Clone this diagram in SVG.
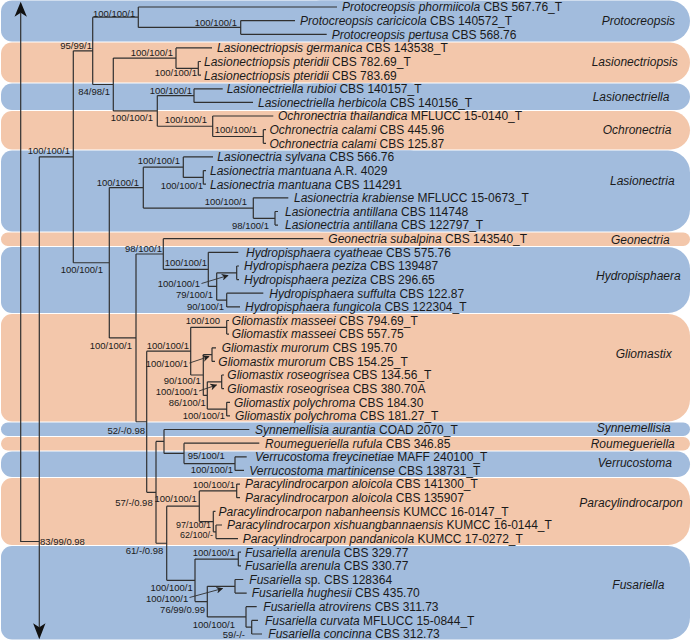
<svg xmlns="http://www.w3.org/2000/svg" width="691" height="641" viewBox="0 0 691 641">
<style>
.b{fill:#a2bcdd}.p{fill:#f3c7ab}
text{font-family:"Liberation Sans",Arial,sans-serif;fill:#1a1a1a}
.lf{font-size:12px}.s{font-size:9.5px;text-anchor:end}.ss{font-size:9.5px}
.i{font-style:italic}.cl{font-size:12px;font-style:italic}
.ln{fill:none;stroke:#303030;stroke-width:1.2}
.ar{fill:none;stroke:#303030;stroke-width:0.9}
</style>
<defs>
<marker id="ah" viewBox="0 0 10 10" refX="9" refY="5" markerWidth="7" markerHeight="7" markerUnits="userSpaceOnUse" orient="auto"><path d="M0 0L10 5L0 10L3 5z" fill="#222"/></marker>
</defs>
<g id="bands">
<rect class="b" x="1" y="0.5" width="420" height="41" rx="11" ry="11"/><rect class="b" x="300" y="0.5" width="390" height="41" rx="20.5" ry="20.5"/>
<rect class="p" x="1" y="42.5" width="420" height="40" rx="11" ry="11"/><rect class="p" x="300" y="42.5" width="390" height="40" rx="20" ry="20"/>
<rect class="b" x="1" y="83.5" width="420" height="26.5" rx="11" ry="11"/><rect class="b" x="300" y="83.5" width="390" height="26.5" rx="13.25" ry="13.25"/>
<rect class="p" x="1" y="111" width="420" height="38.5" rx="11" ry="11"/><rect class="p" x="300" y="111" width="390" height="38.5" rx="19.25" ry="19.25"/>
<rect class="b" x="1" y="150.5" width="420" height="81" rx="11" ry="11"/><rect class="b" x="300" y="150.5" width="390" height="81" rx="22" ry="22"/>
<rect class="p" x="1" y="232.5" width="689" height="13.5" rx="6.75" ry="6.75"/>
<rect class="b" x="1" y="247" width="420" height="66" rx="11" ry="11"/><rect class="b" x="300" y="247" width="390" height="66" rx="22" ry="22"/>
<rect class="p" x="1" y="314" width="420" height="107.5" rx="11" ry="11"/><rect class="p" x="300" y="314" width="390" height="107.5" rx="22" ry="22"/>
<rect class="b" x="1" y="422.5" width="689" height="13.5" rx="6.75" ry="6.75"/>
<rect class="p" x="1" y="437" width="689" height="13.5" rx="6.75" ry="6.75"/>
<rect class="b" x="1" y="451.5" width="420" height="25.5" rx="11" ry="11"/><rect class="b" x="300" y="451.5" width="390" height="25.5" rx="12.75" ry="12.75"/>
<rect class="p" x="1" y="478" width="420" height="67" rx="11" ry="11"/><rect class="p" x="300" y="478" width="390" height="67" rx="22" ry="22"/>
<rect class="b" x="1" y="546" width="420" height="93.5" rx="11" ry="11"/><rect class="b" x="300" y="546" width="390" height="93.5" rx="22" ry="22"/>
</g>
<g id="connectors">
<path class="ln" d="M20.7 13V541.5H39.3M39.3 156.8V627"/>
<path d="M20.7 1.7L14.5 16.7L20.7 12.7L26.9 16.7z" fill="#111"/>
<path d="M39.3 639.3L33.1 623.3L39.3 627.3L45.5 623.3z" fill="#111"/>
<path class="ln" d="M39.3 156.8H73.3M73.3 50.85V262.75
M73.3 50.85H92.7M92.7 17.2V84.5
M92.7 17.2H138.3M138.3 7V27.45
M138.3 27.45H240.7M240.7 20.6V34.3
M92.7 84.5H113.3M113.3 58.1V110.9
M113.3 58.1H176M176 47.9V68.35
M176 68.35H198.3M198.3 61.5V75.2
M113.3 110.9H157.3M157.3 95.6V126.25
M157.3 95.6H194M194 88.8V102.4
M157.3 126.25H212.7M212.7 116V136.5
M212.7 136.5H263.3M263.3 129.7V143.3
M73.3 262.75H109.3M109.3 187.6V337.9
M109.3 187.6H143.3M143.3 167.15V208.05
M143.3 167.15H183.3M183.3 156.9V177.4
M183.3 177.4H203.3M203.3 170.6V184.2
M143.3 208.05H253.3M253.3 197.8V218.3
M253.3 218.3H275M275 211.5V225.1
M109.3 337.9H136M136 254V421.75
M136 254H163.3M163.3 238.7V269.35
M163.3 269.35H208.3M208.3 252.3V286.4
M208.3 286.4H216.7M216.7 272.8V300.05
M216.7 272.8H236.7M236.7 266V279.6
M216.7 300.05H226.7M226.7 293.2V306.9
M136 421.75H146.7M146.7 351.15V492.35
M146.7 351.15H190.7M190.7 327.3V375
M190.7 327.3H226.7M226.7 320.5V334.1
M190.7 375H203.3M203.3 354.6V395.45
M203.3 354.6H212M212 347.8V361.4
M203.3 395.45H207.3M207.3 381.8V409.1
M207.3 381.8H221.7M221.7 375V388.6
M207.3 409.1H226.7M226.7 402.3V415.9
M146.7 492.35H156M156 441.45V543.25
M156 441.45H164M164 429.5V453.4
M164 453.4H184M184 443.2V463.6
M184 463.6H235M235 456.8V470.4
M156 543.25H166.7M166.7 506.2V580.3
M166.7 506.2H199.3M199.3 490.9V521.55
M199.3 490.9H236.7M236.7 484.1V497.7
M199.3 521.55H213.3M213.3 511.3V531.8
M213.3 531.8H216M216 525V538.6
M166.7 580.3H195M195 559.05V601.6
M195 559.05H238.3M238.3 552.2V565.9
M195 601.6H207.3M207.3 586.3V616.95
M207.3 586.3H235M235 579.5V593.1
M207.3 616.95H246M246 606.7V627.2
M246 627.2H251.7M251.7 620.4V634"/>
<path class="ln" d="M138.3 7H337M240.7 20.6H295M240.7 34.3H326.7
M176 47.9H212M198.3 61.5H201M198.3 75.2H201
M194 88.8H222.7M194 102.4H253M212.7 116H273.3M263.3 129.7H266M263.3 143.3H266
M183.3 156.9H213M203.3 170.6H206M203.3 184.2H206M253.3 197.8H288.3M275 211.5H278M275 225.1H278
M163.3 238.7H323.3M208.3 252.3H238.3M236.7 266H239M236.7 279.6H239M226.7 293.2H263.3M226.7 306.9H240
M226.7 320.5H229M226.7 334.1H229M212 347.8H216M212 361.4H215M221.7 375H224M221.7 388.6H224M226.7 402.3H230M226.7 415.9H230
M164 429.5H249.3M184 443.2H259.3M235 456.8H246.7M235 470.4H244
M236.7 484.1H240M236.7 497.7H240M213.3 511.3H215.5M216 525H222M216 538.6H238
M238.3 552.2H241M238.3 565.9H241M235 579.5H243.3M235 593.1H246.7M246 606.7H256.7M251.7 620.4H258M251.7 634H262"/>
<line class="ar" x1="201.5" y1="283.5" x2="228" y2="275.5" marker-end="url(#ah)"/>
<line class="ar" x1="189.5" y1="363" x2="209" y2="356.5" marker-end="url(#ah)"/>
<line class="ar" x1="199" y1="391" x2="216.5" y2="385" marker-end="url(#ah)"/>
<line class="ar" x1="189.5" y1="597.5" x2="222.5" y2="588.5" marker-end="url(#ah)"/>
</g>
<g id="support">
<text class="ss" x="93" y="16.5">100/100/1</text>
<text class="s" x="237" y="25.5">100/100/1</text>
<text class="s" x="92" y="48.5">95/99/1</text>
<text class="s" x="173" y="56">100/100/1</text>
<text class="s" x="197" y="76">100/100/1</text>
<text class="s" x="110" y="95">84/98/1</text>
<text class="s" x="192" y="93.5">100/100/1</text>
<text class="s" x="153" y="121">100/100/1</text>
<text class="s" x="207" y="123">100/100/1</text>
<text class="s" x="257" y="133">100/100/1</text>
<text class="s" x="70" y="153.5">100/100/1</text>
<text class="s" x="180" y="163.5">100/100/1</text>
<text class="s" x="139" y="186">100/100/1</text>
<text class="s" x="203" y="188.5">100/100/1</text>
<text class="s" x="247" y="205">100/100/1</text>
<text class="s" x="269" y="229">98/100/1</text>
<text class="s" x="162" y="252">98/100/1</text>
<text class="s" x="207" y="266">100/100/1</text>
<text class="s" x="200" y="287">100/100/1</text>
<text class="s" x="213" y="298">79/100/1</text>
<text class="s" x="224" y="310">90/100/1</text>
<text class="s" x="220" y="324">100/100</text>
<text class="s" x="103" y="273">100/100/1</text>
<text class="s" x="132" y="348.5">100/100/1</text>
<text class="s" x="189" y="348.5">100/100/1</text>
<text class="s" x="188" y="367">100/100/1</text>
<text class="s" x="200.7" y="384">90/100/1</text>
<text class="s" x="198" y="394.5">100/100/1</text>
<text class="s" x="205.7" y="406">86/100/1</text>
<text class="s" x="225" y="419">100/100/1</text>
<text class="s" x="145" y="433.5">52/-/0.98</text>
<text class="ss" x="187.7" y="458.5">95/100/1</text>
<text class="s" x="233" y="473">100/100/1</text>
<text class="s" x="235" y="487.5">100/100/1</text>
<text class="s" x="152.7" y="506">57/-/0.98</text>
<text class="s" x="196.7" y="502">100/100/1</text>
<text class="s" x="211" y="527.8" style="font-size:9px">97/100/1</text>
<text class="s" x="213" y="538" style="font-size:9px">62/100/-</text>
<text class="ss" x="40" y="544.5">83/99/0.98</text>
<text class="s" x="163.3" y="553.5">61/-/0.98</text>
<text class="s" x="235" y="556">100/100/1</text>
<text class="s" x="192.7" y="591">100/100/1</text>
<text class="s" x="188.3" y="602">100/100/1</text>
<text class="s" x="205" y="613">76/99/0.99</text>
<text class="s" x="235" y="627.5">100/100/1</text>
<text class="s" x="245" y="637.5">59/-/-</text>
</g>
<g id="leaves" class="lf">
<g id="n0"><text x="342" y="11.3"><tspan class="i">Protocreopsis phormiicola</tspan> CBS 567.76_T</text></g>
<g id="n1"><text x="300" y="24.9"><tspan class="i">Protocreopsis caricicola</tspan> CBS 140572_T</text></g>
<g id="n2"><text x="331.7" y="38.6"><tspan class="i">Protocreopsis pertusa</tspan> CBS 568.76</text></g>
<g id="n3"><text x="217" y="52.2"><tspan class="i">Lasionectriopsis germanica</tspan> CBS 143538_T</text></g>
<g id="n4"><text x="204" y="65.8"><tspan class="i">Lasionectriopsis pteridii</tspan> CBS 782.69_T</text></g>
<g id="n5"><text x="204" y="79.5"><tspan class="i">Lasionectriopsis pteridii</tspan> CBS 783.69</text></g>
<g id="n6"><text x="226.7" y="93.1"><tspan class="i">Lasionectriella rubioi</tspan> CBS 140157_T</text></g>
<g id="n7"><text x="258" y="106.7"><tspan class="i">Lasionectriella herbicola</tspan> CBS 140156_T</text></g>
<g id="n8"><text x="278" y="120.3"><tspan class="i">Ochronectria thailandica</tspan> MFLUCC 15-0140_T</text></g>
<g id="n9"><text x="269.5" y="134"><tspan class="i">Ochronectria calami</tspan> CBS 445.96</text></g>
<g id="n10"><text x="269.5" y="147.6"><tspan class="i">Ochronectria calami</tspan> CBS 125.87</text></g>
<g id="n11"><text x="217.3" y="161.2"><tspan class="i">Lasionectria sylvana</tspan> CBS 566.76</text></g>
<g id="n12"><text x="210" y="174.9"><tspan class="i">Lasionectria mantuana</tspan> A.R. 4029</text></g>
<g id="n13"><text x="210" y="188.5"><tspan class="i">Lasionectria mantuana</tspan> CBS 114291</text></g>
<g id="n14"><text x="294" y="202.1"><tspan class="i">Lasionectria krabiense</tspan> MFLUCC 15-0673_T</text></g>
<g id="n15"><text x="285" y="215.8"><tspan class="i">Lasionectria antillana</tspan> CBS 114748</text></g>
<g id="n16"><text x="285" y="229.4"><tspan class="i">Lasionectria antillana</tspan> CBS 122797_T</text></g>
<g id="n17"><text x="328.3" y="243"><tspan class="i">Geonectria subalpina</tspan> CBS 143540_T</text></g>
<g id="n18"><text x="246" y="256.6"><tspan class="i">Hydropisphaera cyatheae</tspan> CBS 575.76</text></g>
<g id="n19"><text x="244" y="270.3"><tspan class="i">Hydropisphaera peziza</tspan> CBS 139487</text></g>
<g id="n20"><text x="244" y="283.9"><tspan class="i">Hydropisphaera peziza</tspan> CBS 296.65</text></g>
<g id="n21"><text x="269.3" y="297.5"><tspan class="i">Hydropisphaera suffulta</tspan> CBS 122.87</text></g>
<g id="n22"><text x="245" y="311.2"><tspan class="i">Hydropisphaera fungicola</tspan> CBS 122304_T</text></g>
<g id="n23"><text x="231.7" y="324.8"><tspan class="i">Gliomastix masseei</tspan> CBS 794.69_T</text></g>
<g id="n24"><text x="231.7" y="338.4"><tspan class="i">Gliomastix masseei</tspan> CBS 557.75</text></g>
<g id="n25"><text x="221.7" y="352.1"><tspan class="i">Gliomastix murorum</tspan> CBS 195.70</text></g>
<g id="n26"><text x="218.3" y="365.7"><tspan class="i">Gliomastix murorum</tspan> CBS 154.25_T</text></g>
<g id="n27"><text x="227.3" y="379.3"><tspan class="i">Gliomastix roseogrisea</tspan> CBS 134.56_T</text></g>
<g id="n28"><text x="227.3" y="392.9"><tspan class="i">Gliomastix roseogrisea</tspan> CBS 380.70A</text></g>
<g id="n29"><text x="234" y="406.6"><tspan class="i">Gliomastix polychroma</tspan> CBS 184.30</text></g>
<g id="n30"><text x="235" y="420.2"><tspan class="i">Gliomastix polychroma</tspan> CBS 181.27_T</text></g>
<g id="n31"><text x="255" y="433.8"><tspan class="i">Synnemellisia aurantia</tspan> COAD 2070_T</text></g>
<g id="n32"><text x="265" y="447.5"><tspan class="i">Roumegueriella rufula</tspan> CBS 346.85</text></g>
<g id="n33"><text x="255" y="461.1"><tspan class="i">Verrucostoma freycinetiae</tspan> MAFF 240100_T</text></g>
<g id="n34"><text x="249.3" y="474.7"><tspan class="i">Verrucostoma martinicense</tspan> CBS 138731_T</text></g>
<g id="n35"><text x="245" y="488.4"><tspan class="i">Paracylindrocarpon aloicola</tspan> CBS 141300_T</text></g>
<g id="n36"><text x="245" y="502"><tspan class="i">Paracylindrocarpon aloicola</tspan> CBS 135907</text></g>
<g id="n37"><text x="218.5" y="515.6"><tspan class="i">Paracylindrocarpon nabanheensis</tspan> KUMCC 16-0147_T</text></g>
<g id="n38"><text x="227" y="529.3"><tspan class="i">Paracylindrocarpon xishuangbannaensis</tspan> KUMCC 16-0144_T</text></g>
<g id="n39"><text x="242.7" y="542.9"><tspan class="i">Paracylindrocarpon pandanicola</tspan> KUMCC 17-0272_T</text></g>
<g id="n40"><text x="245" y="556.5"><tspan class="i">Fusariella arenula</tspan> CBS 329.77</text></g>
<g id="n41"><text x="245" y="570.2"><tspan class="i">Fusariella arenula</tspan> CBS 330.77</text></g>
<g id="n42"><text x="249.3" y="583.8"><tspan class="i">Fusariella</tspan> sp. CBS 128364</text></g>
<g id="n43"><text x="251.7" y="597.4"><tspan class="i">Fusariella hughesii</tspan> CBS 435.70</text></g>
<g id="n44"><text x="263.3" y="611"><tspan class="i">Fusariella atrovirens</tspan> CBS 311.73</text></g>
<g id="n45"><text x="265" y="624.7"><tspan class="i">Fusariella curvata</tspan> MFLUCC 15-0844_T</text></g>
<g id="n46"><text x="268.3" y="638.3"><tspan class="i">Fusariella concinna</tspan> CBS 312.73</text></g>
</g>
<g id="clades" class="cl">
<g id="c-protocreopsis"><text class="cl" x="601.7" y="25">Protocreopsis</text></g>
<g id="c-lasionectriopsis"><text class="cl" x="591.7" y="66">Lasionectriopsis</text></g>
<g id="c-lasionectriella"><text class="cl" x="592.7" y="101">Lasionectriella</text></g>
<g id="c-ochronectria"><text class="cl" x="602.7" y="134.3">Ochronectria</text></g>
<g id="c-lasionectria"><text class="cl" x="610" y="185">Lasionectria</text></g>
<g id="c-geonectria"><text class="cl" x="611" y="243.6">Geonectria</text></g>
<g id="c-hydropisphaera"><text class="cl" x="596" y="280.3">Hydropisphaera</text></g>
<g id="c-gliomastix"><text class="cl" x="615.7" y="357.6">Gliomastix</text></g>
<g id="c-synnemellisia"><text class="cl" x="596.7" y="431.6">Synnemellisia</text></g>
<g id="c-roumegueriella"><text class="cl" x="590.7" y="448.3">Roumegueriella</text></g>
<g id="c-verrucostoma"><text class="cl" x="597.7" y="467">Verrucostoma</text></g>
<g id="c-paracylindrocarpon"><text class="cl" x="579.3" y="507">Paracylindrocarpon</text></g>
<g id="c-fusariella"><text class="cl" x="612.3" y="589.3">Fusariella</text></g>
</g>
</svg>
